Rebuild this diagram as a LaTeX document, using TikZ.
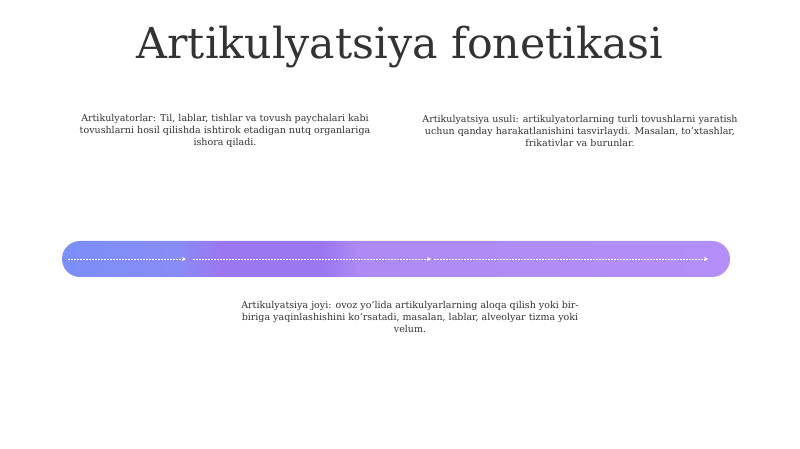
\documentclass[tikz,border=0pt]{standalone}
\usepackage{fontspec}
\setmainfont{DejaVu Serif}
\usetikzlibrary{arrows.meta}
\definecolor{txt}{HTML}{333333}
\definecolor{cA}{HTML}{7B8FF8}
\definecolor{cE}{HTML}{888CF6}
\definecolor{cB}{HTML}{9C77F2}
\definecolor{cC}{HTML}{AD8AF4}
\definecolor{cD}{HTML}{B48EF8}
\pgfdeclarehorizontalshading{barshade}{100bp}{
  color(0bp)=(cA); color(25bp)=(cA); color(33.6bp)=(cE); color(37bp)=(cB);
  color(44.6bp)=(cB); color(47.2bp)=(cC); color(75bp)=(cD); color(100bp)=(cD)}
\tikzset{
  x=1pt,y=1pt,
  desc/.style={text=txt,font=\fontsize{9.5}{12}\selectfont,align=center,inner sep=0pt},
  flow/.style={white,line width=0.8pt,dash pattern=on 2pt off 1pt,-{Stealth[length=4pt,width=4pt]}}
}
\begin{document}
\begin{tikzpicture}
\useasboundingbox (0,0) rectangle (800,449);
\fill[white] (0,0) rectangle (800,449);
\node[text=txt,font=\fontsize{42.7}{48}\selectfont,inner sep=0pt] (title) at (400,402) {Artikulyatsiya fonetikasi};
\node[desc] (t1) at (225,318) {Artikulyatorlar: Til, lablar, tishlar va tovush paychalari kabi\\tovushlarni hosil qilishda ishtirok etadigan nutq organlariga\\ishora qiladi.};
\node[desc] (t2) at (580,318) {Artikulyatsiya usuli: artikulyatorlarning turli tovushlarni yaratish\\uchun qanday harakatlanishini tasvirlaydi. Masalan, to'xtashlar,\\frikativlar va burunlar.};
\node[desc] (t3) at (410,132) {Artikulyatsiya joyi: ovoz yo'lida artikulyarlarning aloqa qilish yoki bir-\\biriga yaqinlashishini ko'rsatadi, masalan, lablar, alveolyar tizma yoki\\velum.};
\shade[shading=barshade,rounded corners=18pt] (62,172) rectangle (730,208);
\node[inner sep=0pt,minimum width=668pt,minimum height=36pt] (bar) at (396,190) {};
\coordinate (a0) at (68,190);
\coordinate (a1) at (186,190);
\coordinate (b0) at (193,190);
\coordinate (b1) at (431,190);
\coordinate (c0) at (434,190);
\coordinate (c1) at (708,190);
\draw[flow] (a0) -- (a1);
\draw[flow] (b0) -- (b1);
\draw[flow] (c0) -- (c1);
\end{tikzpicture}
\end{document}
